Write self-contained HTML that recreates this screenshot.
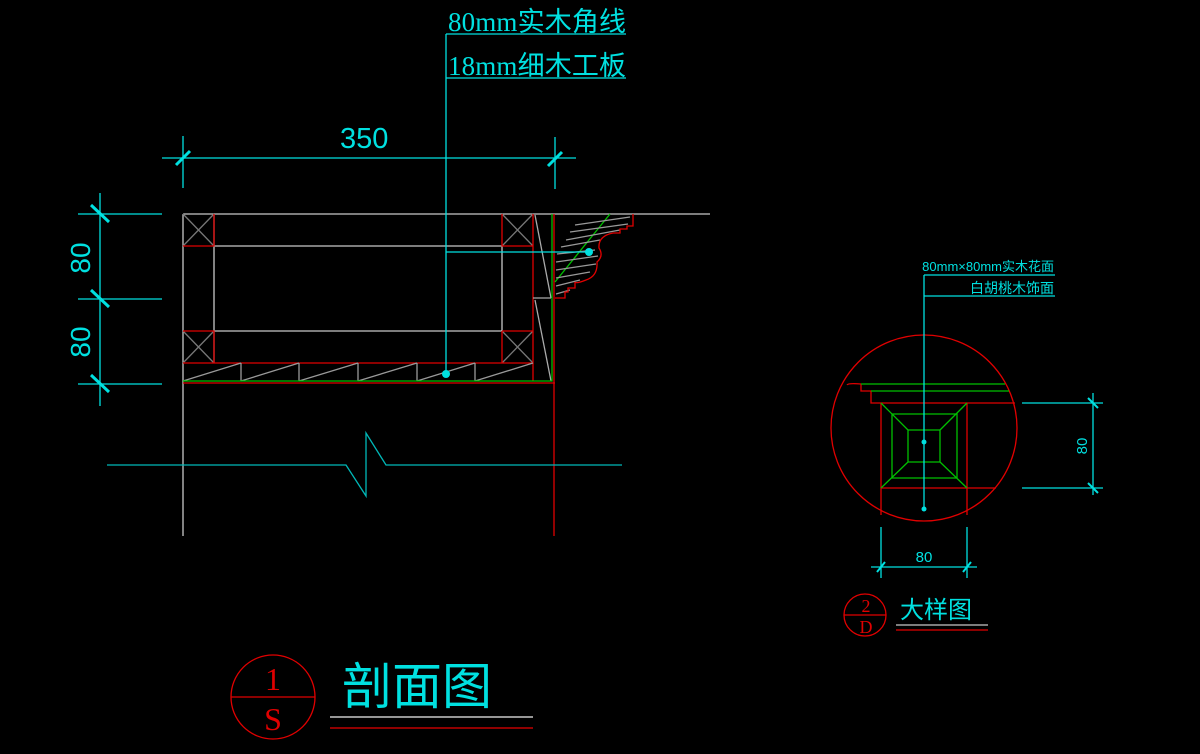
<!DOCTYPE html>
<html><head><meta charset="utf-8"><style>html,body{margin:0;padding:0;background:#000;}svg{display:block}</style></head>
<body>
<svg width="1200" height="754" viewBox="0 0 1200 754" xmlns="http://www.w3.org/2000/svg" font-family="Liberation Sans, 'Noto Sans CJK SC', sans-serif">
<rect width="1200" height="754" fill="#000"/>
<g stroke-width="1.3" fill="none">
<path d="M183,214 H710 M183,214 V536 M214,214 V363 M214,246 H502 M214,331 H502 M502,246 V331" stroke="#c8c8c8"/>
<path d="M183,214 L214,246 M214,214 L183,246 M183,331 L214,363 M214,331 L183,363 M502,214 L533,246 M533,214 L502,246 M502,331 L533,363 M533,331 L502,363" stroke="#777"/>
<path d="M214,214 V246 H183 M183,331 H214 V363 M502,214 V246 H533 M502,331 H533 M502,331 V363 M533,214 V381 M183,363 H533 M183,383 H555 M554,214 V536" stroke="#e00000"/>
<path d="M535,215 L551,298 M533,298 H551 M535,300 L551,381" stroke="#aaa"/>
<path d="M241,363 V381 M299,363 V381 M358,363 V381 M417,363 V381 M475,363 V381 M183,381 L241,363 M241,381 L299,363 M299,381 L358,363 M358,381 L417,363 M417,381 L475,363 M475,381 L533,363" stroke="#999"/>
<path d="M183,381 H552 V214" stroke="#00c000"/>
<path d="M610,214 L555,282" stroke="#00c000"/>
<path d="M575,225 L630,217 M570,232 L628,224 M566,240 L620,230 M561,247 L600,240 M557,254 L595,250 M556,262 L598,256 M556,270 L596,264 M556,278 L590,272 M556,286 L580,280 M556,294 L570,290" stroke="#999"/>
<path d="M633,214 V226 H627 V229 H620 V233 H613 Q598,236 599,248 Q604,256 597,262 Q598,276 586,280 Q576,284 575,282 V288 H568 V292 H565 V298 H555" stroke="#e00000"/>
<path d="M446,34 V374 M446,252 H589 M446,34 H626 M446,78 H626" stroke="#00e0e0"/>
<path d="M162,158 H576 M183,136 V188 M555,137 V189" stroke="#00e0e0"/>
<path d="M176,165 L190,151 M548,166 L562,152" stroke="#00e0e0" stroke-width="3"/>
<path d="M100,193 V406 M78,214 H162 M78,299 H162 M78,384 H162" stroke="#00e0e0"/>
<path d="M91,205 L109,222 M91,290 L109,307 M91,375 L109,392" stroke="#00e0e0" stroke-width="3"/>
<path d="M107,465 H346 L366,496 V433 L386,465 H622" stroke="#00b8b8"/>
<circle cx="924" cy="428" r="93" stroke="#e00000"/>
<path d="M881,403 V515 M967,403 V515 M881,403 H1015 M881,488 H996 M861,384 Q848,383 847,385 M861,384 V391 H871 V403 H881" stroke="#e00000"/>
<path d="M861,384 H1005 M871,391 H1009 M892,414 H957 V478 H892 Z M908,430 H940 V462 H908 Z M881,403 L908,430 M967,403 L940,430 M881,488 L908,462 M967,488 L940,462" stroke="#00c000"/>
<path d="M924,275 V510 M924,275 H1055 M924,296 H1055 M1093,393 V495 M1022,403 H1103 M1022,488 H1103 M871,567 H977 M881,527 V578 M967,527 V578" stroke="#00e0e0"/>
<path d="M1088,398 L1098,408 M1088,483 L1098,493 M877,572 L885,562 M963,572 L971,562" stroke="#00e0e0" stroke-width="2"/>
<circle cx="865" cy="615" r="21" stroke="#e00000"/>
<path d="M844,615 H886" stroke="#e00000"/>
<path d="M896,625 H988" stroke="#c8c8c8"/>
<path d="M896,630 H988" stroke="#e00000"/>
<circle cx="273" cy="697" r="42" stroke="#e00000"/>
<path d="M231,697 H315" stroke="#e00000"/>
<path d="M330,717 H533" stroke="#c8c8c8" stroke-width="1.6"/>
<path d="M330,728 H533" stroke="#c00000" stroke-width="1.6"/>
</g>
<g fill="#00e0e0">
<circle cx="446" cy="374" r="4"/><circle cx="589" cy="252" r="4"/>
<circle cx="924" cy="442" r="2.5"/><circle cx="924" cy="509" r="2.5"/>
</g>
<g fill="#00e0e0">
<text x="448" y="31" font-size="27" textLength="178" font-family="Liberation Serif, 'Noto Sans CJK SC', sans-serif">80mm实木角线</text>
<text x="448" y="75" font-size="27" textLength="178" font-family="Liberation Serif, 'Noto Sans CJK SC', sans-serif">18mm细木工板</text>
<text x="340" y="148" font-size="29">350</text>
<text transform="translate(90,258) rotate(-90)" font-size="28" text-anchor="middle">80</text>
<text transform="translate(90,342) rotate(-90)" font-size="28" text-anchor="middle">80</text>
<text x="1054" y="271" font-size="13" text-anchor="end">80mm×80mm实木花面</text>
<text x="1054" y="293" font-size="14" text-anchor="end">白胡桃木饰面</text>
<text transform="translate(1087,446) rotate(-90)" font-size="15" text-anchor="middle">80</text>
<text x="924" y="562" font-size="15" text-anchor="middle">80</text>
<text x="900" y="618" font-size="24">大样图</text>
<text x="342" y="704" font-size="50">剖面图</text>
</g>
<g fill="#e00000" font-family="Liberation Serif, serif" text-anchor="middle">
<text x="866" y="612" font-size="18">2</text>
<text x="866" y="633" font-size="18">D</text>
<text x="273" y="690" font-size="32">1</text>
<text x="273" y="730" font-size="32">S</text>
</g>
</svg>
</body></html>
